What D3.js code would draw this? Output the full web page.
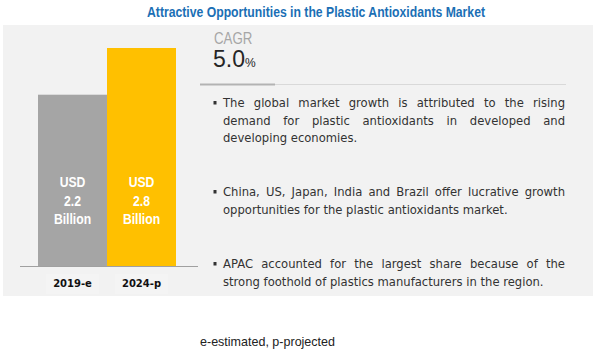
<!DOCTYPE html>
<html><head><meta charset="utf-8">
<script src="https://cdn.jsdelivr.net/npm/d3@7"></script>
<style>
html,body{margin:0;padding:0;background:#fff;}
svg{display:block;}
</style></head>
<body>
<svg id="chart" width="601" height="354"></svg>
<script>
const title = "Attractive Opportunities in the Plastic Antioxidants Market";
const categories = ["2019-e", "2024-p"];
const values = [2.2, 2.8];
const valueLabels = ["2.2", "2.8"];
const barColors = ["#a5a5a5", "#ffc000"];
const cagrLabel = "CAGR";
const cagrValue = "5.0";
const bullets = [
  ["The global market growth is attributed to the rising", "demand for plastic antioxidants in developed and", "developing economies."],
  ["China, US, Japan, India and Brazil offer lucrative growth", "opportunities for the plastic antioxidants market."],
  ["APAC accounted for the largest share because of the", "strong foothold of plastics manufacturers in the region."]
];
const footnote = "e-estimated, p-projected";

const svg = d3.select("#chart");
const SANS = "'Liberation Sans', Arial, sans-serif";
const BODY = "'DejaVu Sans', Verdana, sans-serif";

function squeeze(sel, factor) {
  sel.each(function() {
    const w = this.getComputedTextLength();
    d3.select(this).attr("textLength", w * factor).attr("lengthAdjust", "spacingAndGlyphs");
  });
  return sel;
}

// panel
svg.append("rect").attr("x", 3).attr("y", 25).attr("width", 590).attr("height", 271).attr("fill", "#f2f2f2");

// title
const tt = svg.append("text").attr("x", 316).attr("y", 17).attr("text-anchor", "middle")
  .attr("font-family", SANS).attr("font-weight", "bold").attr("font-size", 14.5)
  .attr("fill", "#1b6fb5").text(title);
tt.attr("textLength", 338).attr("lengthAdjust", "spacingAndGlyphs");

// scales
const x = d3.scaleBand().domain(categories).range([38, 176]).padding(0);
const y = d3.scaleLinear().domain([0, 2.8]).range([266, 48]);

// category label boxes
svg.append("g").selectAll("rect").data(categories).join("rect")
  .attr("x", d => x(d) + 8).attr("y", 274).attr("width", x.bandwidth() - 16).attr("height", 20)
  .attr("fill", "#f4f4f4");

// bars
svg.append("g").selectAll("rect").data(values).join("rect")
  .attr("x", (d, i) => x(categories[i]))
  .attr("y", d => y(d))
  .attr("width", x.bandwidth())
  .attr("height", d => y(0) - y(d))
  .attr("fill", (d, i) => barColors[i]);

// bar labels
const lg = svg.append("g").attr("font-family", SANS).attr("font-weight", "bold")
  .attr("font-size", 14.5).attr("fill", "#fff").attr("text-anchor", "middle");
values.forEach((d, i) => {
  const cx = x(categories[i]) + x.bandwidth() / 2;
  ["USD", valueLabels[i], "Billion"].forEach((s, k) => {
    const t = lg.append("text").attr("x", cx).attr("y", 187 + k * 18.5).text(s);
    squeeze(t, 0.84);
  });
});

// axis
svg.append("line").attr("x1", 20).attr("x2", 198).attr("y1", y(0) + 0.5).attr("y2", y(0) + 0.5)
  .attr("stroke", "#a0a0a0").attr("stroke-width", 1);
const ax = svg.append("g").attr("transform", `translate(0,${y(0)})`)
  .call(d3.axisBottom(x).tickSize(0).tickPadding(14));
ax.select(".domain").remove();
ax.selectAll("text").attr("font-family", "'DejaVu Sans', sans-serif").attr("font-weight", "bold")
  .attr("font-size", 10).attr("fill", "#111");

// CAGR
const cl = svg.append("text").attr("x", 214).attr("y", 43.5).attr("font-family", SANS)
  .attr("font-size", 16).attr("fill", "#a6a6a6").text(cagrLabel);
squeeze(cl, 0.83);
const cg = svg.append("text").attr("x", 213).attr("y", 67).attr("font-family", SANS)
  .attr("fill", "#262626");
cg.append("tspan").attr("font-size", 23).text(cagrValue);
cg.append("tspan").attr("font-size", 12).text("%");

// divider
svg.append("line").attr("x1", 200).attr("x2", 566).attr("y1", 84.5).attr("y2", 84.5)
  .attr("stroke", "#d9d9d9").attr("stroke-width", 1.2);
svg.append("line").attr("x1", 200).attr("x2", 275).attr("y1", 84.5).attr("y2", 84.5)
  .attr("stroke", "#b3b3b3").attr("stroke-width", 2.2);

// bullets
const left = 223, right = 565, fs = 11.6, lh = 17.5;
const startY = [107, 196, 268];
const bg = svg.append("g").attr("font-family", BODY).attr("font-size", fs).attr("fill", "#333");
bullets.forEach((lines, bi) => {
  const y0 = startY[bi];
  bg.append("rect").attr("x", 213.5).attr("y", y0 - 6).attr("width", 3).attr("height", 3.5).attr("fill", "#333");
  lines.forEach((line, li) => {
    const yy = y0 + li * lh;
    const last = li === lines.length - 1;
    if (last) {
      bg.append("text").attr("x", left).attr("y", yy).text(line);
    } else {
      const words = line.split(" ");
      const nodes = words.map(w => bg.append("text").attr("y", yy).text(w));
      const widths = nodes.map(n => n.node().getComputedTextLength());
      const total = d3.sum(widths);
      const gap = (right - left - total) / (words.length - 1);
      let cx = left;
      nodes.forEach((n, k) => { n.attr("x", cx); cx += widths[k] + gap; });
    }
  });
});

// footnote
const fn = svg.append("text").attr("x", 200).attr("y", 346).attr("font-family", SANS)
  .attr("font-size", 13).attr("fill", "#222").text(footnote);
fn.attr("textLength", 135).attr("lengthAdjust", "spacingAndGlyphs");
</script>
</body></html>
